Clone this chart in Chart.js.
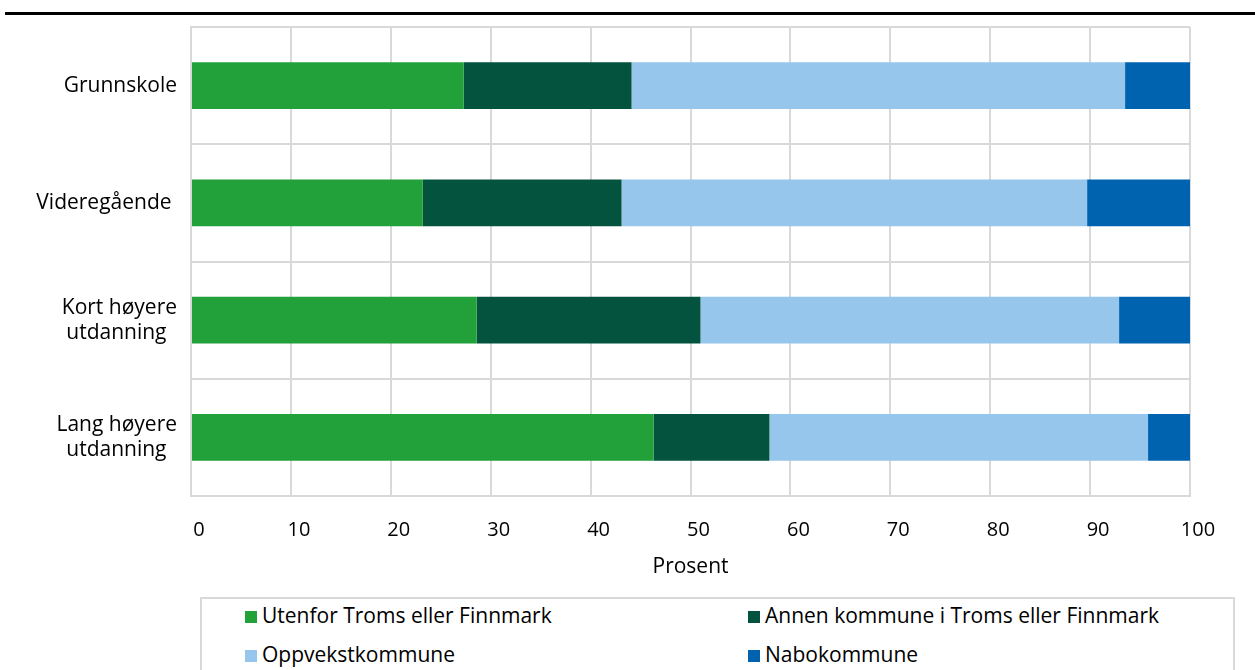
<!DOCTYPE html>
<html>
<head>
<meta charset="utf-8">
<script src="https://cdn.jsdelivr.net/npm/chart.js@4/dist/chart.umd.min.js"></script>
<style>
  body { margin:0; background:#fff; font-family:'Open Sans', sans-serif; }
  #wrap { position:relative; width:1255px; height:670px; overflow:hidden; }
  #topline { position:absolute; left:5px; top:12px; width:1250px; height:3px; background:#000; }
  #chartBox { position:absolute; left:0; top:0; width:1255px; height:590px; }
  #legend { position:absolute; left:200px; top:597px; width:1035px; height:90px; border:2px solid #d9d9d9; box-sizing:border-box; }
  .item { position:absolute; font-size:21px; color:#000; line-height:24px; white-space:nowrap; }
  .item span { display:inline-block; width:12px; height:12px; margin-right:5px; vertical-align:0px; }
</style>
</head>
<body>
<div id="wrap">
  <div id="topline"></div>
  <div id="chartBox"><canvas id="chart"></canvas></div>
  <div id="legend"></div>
</div>
<script>
const categories = ['Grunnskole', 'Videregående ', ['Kort høyere', 'utdanning'], ['Lang høyere', 'utdanning']];
const utenfor = [27.3, 23.2, 28.6, 46.3];
const annenKommune = [16.8, 19.9, 22.4, 11.6];
const oppvekst = [49.4, 46.6, 41.9, 37.9];
const nabo = [6.5, 10.3, 7.1, 4.2];
const seriesNames = ['Utenfor Troms eller Finnmark', 'Annen kommune i Troms eller Finnmark', 'Oppvekstkommune', 'Nabokommune'];
const colors = ['#22a03a', '#03533f', '#96c6eb', '#0063af'];

const FONT = "'Open Sans', sans-serif";
const allData = [utenfor, annenKommune, oppvekst, nabo];

const ctx = document.getElementById('chart').getContext('2d');
new Chart(ctx, {
    type: 'bar',
    data: {
        labels: categories,
        datasets: allData.map((d, i) => ({
            label: seriesNames[i],
            data: d,
            backgroundColor: colors[i],
            borderWidth: 0,
            barPercentage: 0.4,
            categoryPercentage: 1
        }))
    },
    options: {
        indexAxis: 'y',
        responsive: true,
        maintainAspectRatio: false,
        animation: false,
        layout: { padding: { top: 27, right: 65, left: 0, bottom: 0 } },
        plugins: { legend: { display: false }, tooltip: { enabled: false } },
        scales: {
            x: {
                stacked: true,
                min: 0, max: 100,
                ticks: {
                    stepSize: 10, color: '#000', padding: 22, labelOffset: 8,
                    font: { family: FONT, size: 20 }
                },
                grid: { color: '#d9d9d9', lineWidth: 2, drawTicks: false },
                border: { color: '#d9d9d9', width: 2 },
                title: {
                    display: true, text: 'Prosent', color: '#000',
                    font: { family: FONT, size: 21 }, padding: { top: 0, bottom: 10 }
                },
                afterFit: s => { s.height = 94; }
            },
            y: {
                stacked: true,
                ticks: {
                    color: '#000', padding: 14,
                    font: { family: FONT, size: 21, lineHeight: 1.2 },
                    callback: function (v) {
                        const l = this.getLabelForValue(v);
                        return Array.isArray(l) ? [l[0], l[1] + '\u2002'] : l;
                    }
                },
                grid: { color: '#d9d9d9', lineWidth: 2, drawTicks: false, offset: true },
                border: { color: '#d9d9d9', width: 2 },
                afterFit: s => { s.width = 191; s.paddingTop = 0; s.paddingBottom = 0; }
            }
        }
    }
});

// legend in two columns, like the original
const legend = document.getElementById('legend');
const pos = [[43, 4], [546, 4], [43, 43], [546, 43]];
seriesNames.forEach((n, i) => {
    const d = document.createElement('div');
    d.className = 'item';
    d.style.left = pos[i][0] + 'px';
    d.style.top = pos[i][1] + 'px';
    d.innerHTML = '<span style="background:' + colors[i] + '"></span>' + n;
    legend.appendChild(d);
});
</script>
</body>
</html>
